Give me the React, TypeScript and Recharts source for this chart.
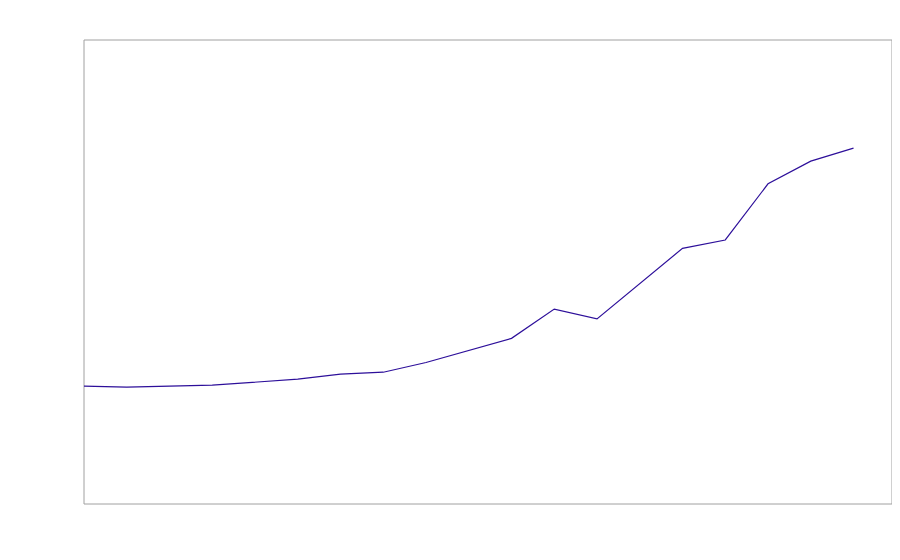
import React from "react";
import { LineChart, Line, XAxis, YAxis, ReferenceArea } from "recharts";

const periods = [0, 1, 3, 5, 6, 7, 8, 10, 11, 12, 14, 15, 16, 17, 18];
const values = [25.4, 25.2, 25.6, 26.9, 28.0, 28.4, 30.5, 35.7, 42.0, 39.9, 55.1, 56.9, 69.0, 73.9, 76.7];
const xDomain = [0, 18.9];
const yDomain = [0, 100];

const data = periods.map((p, i) => ({ p, v: values[i] }));

export default function App() {
  return (
    <LineChart width={884} height={544} data={data} margin={{ top: 32, right: 0, bottom: 48, left: 76 }}>
      <XAxis dataKey="p" type="number" domain={xDomain} allowDataOverflow hide />
      <YAxis type="number" domain={yDomain} hide />
      <ReferenceArea x1={xDomain[0]} x2={xDomain[1]} y1={yDomain[0]} y2={yDomain[1]} stroke="#a0a0a0" strokeWidth={1} fill="none" fillOpacity={0} />
      <Line type="linear" dataKey="v" stroke="#2d0f9a" strokeWidth={1.2} dot={false} isAnimationActive={false} />
    </LineChart>
  );
}
